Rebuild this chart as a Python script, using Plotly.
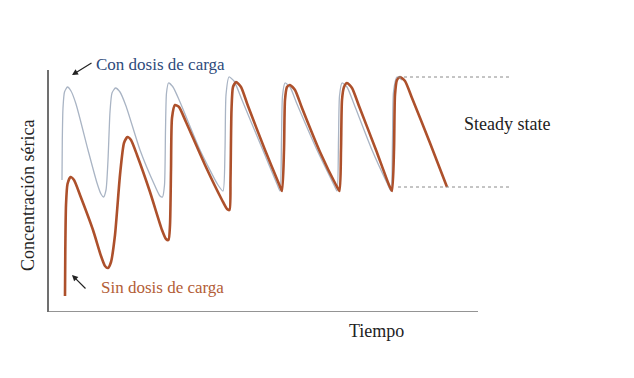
import plotly.graph_objects as go

# Units: arbitrary time (x) and arbitrary serum concentration (y)
# Con dosis de carga (thin grey line)
con_t = [13, 13.3, 14, 15.5, 18.5, 22, 27, 39, 48, 52, 54.5, 57, 59, 61, 63, 66.5,
         71, 77, 91, 106, 111, 113.5, 115.5, 116.5, 117.5, 119.5,
         124, 131, 151, 169, 174, 176, 177, 180,
         185, 193, 213, 228, 231, 232.5, 233.5, 236,
         241, 248, 268, 285, 288, 289.5, 290.5, 293,
         298, 305, 323, 339, 342, 343.5, 344.5, 348, 353]
con_c = [132, 172, 204, 220, 225, 221, 208, 162, 129, 118, 115, 122, 152, 200, 219, 224,
         220, 206, 162, 126, 116, 115, 127, 182, 219, 229,
         225, 210, 162, 127, 121, 162, 217, 235,
         231, 212, 164, 128, 121, 172, 216, 229,
         225, 208, 162, 127, 121, 172, 216, 229,
         225, 208, 162, 127, 121, 172, 220, 235, 232]

# Sin dosis de carga (thick brown line)
sin_t = [16, 16.3, 17, 18.5, 21.5, 25, 31, 44, 52, 56, 59, 62, 66, 71, 75, 78.5,
         82, 88, 101, 113, 117, 119.5, 121, 122, 123, 126,
         130, 137, 156, 173, 178, 180.5, 181.5, 182.5, 184, 187,
         192, 199, 216, 230, 233, 235, 236, 238, 241,
         246, 253, 271, 287, 290.5, 292, 293, 295, 298,
         303, 310, 327, 340, 343, 345, 346, 348, 351,
         356, 363, 381, 398]
sin_c = [16, 62, 107, 128, 135, 132, 117, 82, 56, 46, 44, 50, 77, 137, 169, 175,
         172, 157, 120, 82, 73, 72, 87, 142, 194, 207,
         205, 190, 147, 112, 103, 102, 132, 202, 225, 230,
         225, 206, 162, 128, 121, 162, 212, 225, 227,
         222, 204, 160, 127, 121, 162, 212, 225, 229,
         224, 206, 162, 127, 121, 162, 217, 232, 235,
         231, 214, 169, 125]

# Steady state levels and extent
ss_max = 235
ss_min = 125
ss_t0 = 349
ss_t1 = 463

x_axis_end = 429
x_range = [0, 511]
y_range = [0, 242]

SERIF = "Liberation Serif, Times New Roman, serif"

fig = go.Figure()
fig.add_trace(go.Scatter(x=con_t, y=con_c, mode="lines",
                         line=dict(color="#a9b4c4", width=1.3, shape="spline", smoothing=0.6),
                         hoverinfo="skip"))
fig.add_trace(go.Scatter(x=sin_t, y=sin_c, mode="lines",
                         line=dict(color="#ad502b", width=2.6, shape="spline", smoothing=0.6),
                         hoverinfo="skip"))

for lvl in (ss_max, ss_min):
    fig.add_shape(type="line", x0=ss_t0, x1=ss_t1, y0=lvl, y1=lvl, xref="x", yref="y",
                  line=dict(color="#8a8a8a", width=1, dash="dot"))
fig.add_shape(type="line", x0=0, x1=x_axis_end, y0=0, y1=0, xref="x", yref="y",
              line=dict(color="#707070", width=1.5))

ann = [
    dict(x=111, y=248 / 242, xref="x", yref="paper", text="Con dosis de carga", showarrow=False,
         font=dict(family=SERIF, size=17, color="#2e4a7b")),
    dict(x=23, y=237, ax=44, ay=250, axref="x", ayref="y", text="",
         showarrow=True, arrowhead=2, arrowsize=1, arrowwidth=1.2, arrowcolor="#222"),
    dict(x=113, y=25, text="Sin dosis de carga", showarrow=False,
         font=dict(family=SERIF, size=17, color="#b35d37")),
    dict(x=23, y=37, ax=38, ay=22, axref="x", ayref="y", text="",
         showarrow=True, arrowhead=2, arrowsize=1, arrowwidth=1.2, arrowcolor="#222"),
    dict(x=458, y=188, text="Steady state", showarrow=False,
         font=dict(family=SERIF, size=18, color="#222")),
    dict(x=327, y=-19 / 242, xref="x", yref="paper", text="Tiempo", showarrow=False,
         font=dict(family=SERIF, size=18, color="#222")),
    dict(x=-21 / 511, y=116 / 242, xref="paper", yref="paper", text="Concentración sérica",
         showarrow=False, textangle=-90,
         font=dict(family=SERIF, size=18, color="#222")),
]
for a in ann:
    if not a.get("showarrow"):
        a["xanchor"] = "center"
        a["yanchor"] = "middle"
    fig.add_annotation(**a)

fig.update_layout(
    width=634, height=378,
    margin=dict(l=41, r=82, t=62, b=74),
    paper_bgcolor="white", plot_bgcolor="white",
    showlegend=False,
    xaxis=dict(range=x_range, showgrid=False, zeroline=False, showticklabels=False,
               ticks="", showline=False),
    yaxis=dict(range=y_range, showgrid=False, zeroline=False, showticklabels=False,
               ticks="", showline=True, linecolor="#707070", linewidth=1.5),
)

fig.write_html("out.html")
